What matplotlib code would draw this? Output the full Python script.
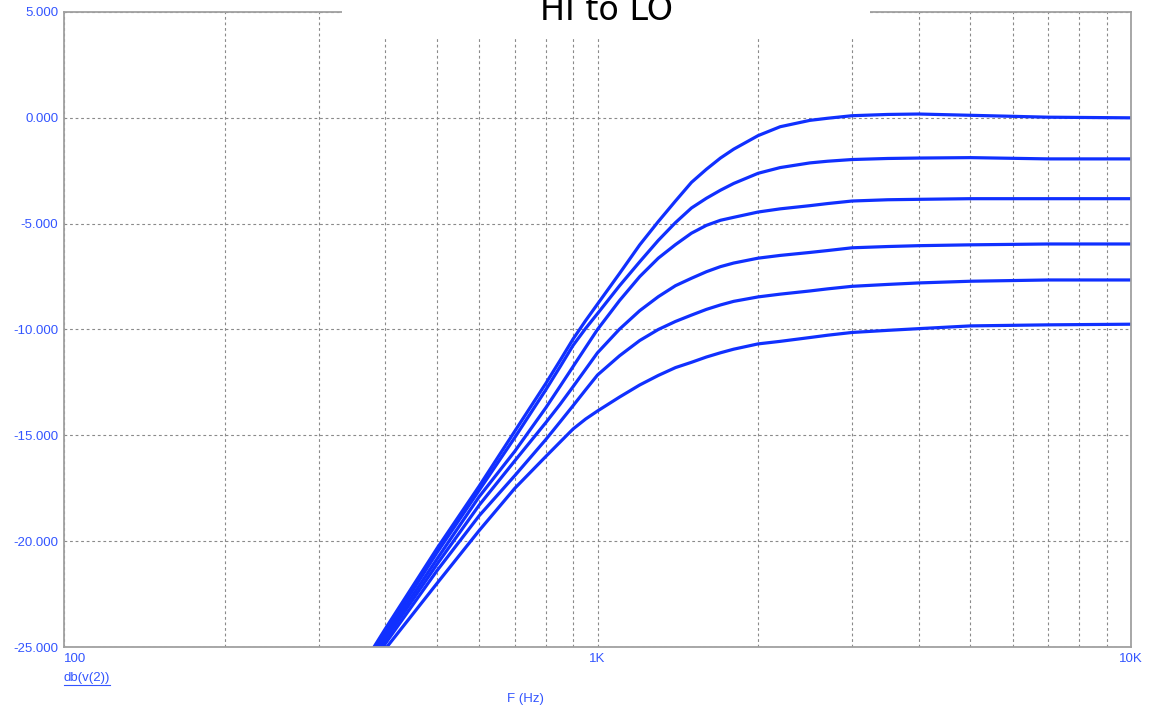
import numpy as np
import matplotlib
matplotlib.use("Agg")
import matplotlib.pyplot as plt
from matplotlib.patches import Rectangle
from matplotlib.ticker import FixedLocator, NullFormatter

# frequency points (Hz)
freq = [380, 400, 500, 600, 700, 800, 850, 900, 950, 1000, 1100, 1200, 1300, 1400,
        1500, 1600, 1700, 1800, 2000, 2200, 2500, 2700, 3000, 3500, 4000, 5000,
        7000, 10000]

# db(v(2)) for each sweep step, HI to LO
c1 = [-25.05, -24.15, -20.35, -17.4, -14.8, -12.55, -11.48, -10.45, -9.58, -8.8,
      -7.35, -6.0, -4.9, -3.93, -3.05, -2.43, -1.9, -1.48, -0.84, -0.42, -0.12,
      -0.02, 0.1, 0.16, 0.18, 0.12, 0.03, 0.0]
c2 = [-25.2, -24.35, -20.55, -17.6, -15.1, -12.85, -11.78, -10.75, -9.95, -9.25,
      -7.93, -6.8, -5.79, -4.95, -4.26, -3.8, -3.42, -3.1, -2.62, -2.35, -2.13,
      -2.05, -1.97, -1.92, -1.9, -1.88, -1.94, -1.94]
c3 = [-25.4, -24.5, -20.85, -17.9, -15.75, -13.7, -12.7, -11.75, -10.85, -10.0,
      -8.63, -7.5, -6.63, -5.99, -5.45, -5.08, -4.84, -4.7, -4.45, -4.3, -4.15,
      -4.05, -3.93, -3.87, -3.85, -3.82, -3.82, -3.82]
c4 = [-25.5, -24.67, -21.1, -18.3, -16.2, -14.4, -13.55, -12.7, -11.88, -11.1,
      -9.98, -9.11, -8.45, -7.93, -7.58, -7.27, -7.03, -6.86, -6.63, -6.5, -6.36,
      -6.27, -6.14, -6.08, -6.04, -6.0, -5.96, -5.96]
c5 = [-25.7, -24.85, -21.4, -18.8, -16.9, -15.2, -14.38, -13.6, -12.85, -12.15,
      -11.24, -10.52, -10.0, -9.62, -9.32, -9.05, -8.84, -8.67, -8.46, -8.33, -8.18,
      -8.08, -7.96, -7.87, -7.8, -7.72, -7.66, -7.66]
c6 = [-25.9, -25.1, -22.0, -19.5, -17.5, -16.0, -15.33, -14.7, -14.23, -13.85,
      -13.19, -12.62, -12.17, -11.8, -11.55, -11.3, -11.1, -10.93, -10.68, -10.56,
      -10.38, -10.27, -10.14, -10.04, -9.96, -9.83, -9.78, -9.75]
curves = [c1, c2, c3, c4, c5, c6]

yticks = [5, 0, -5, -10, -15, -20, -25]
xticks = [100, 1000, 10000]
xticklabels = ["100", "1K", "10K"]

blue = "#1030ff"
label_blue = "#3355ff"
grid_gray = "#8a8a8a"

fig = plt.figure(figsize=(11.53, 7.15), dpi=100)
ax = fig.add_axes([64 / 1153, 1 - 647 / 715, (1131 - 64) / 1153, (647 - 12) / 715])

for c in curves:
    ax.plot(freq, c, color=blue, lw=2.3, solid_joinstyle="round")

ax.set_xscale("log")
ax.set_xlim(100, 10000)
ax.set_ylim(-25, 5)

ax.set_yticks(yticks)
ax.set_yticklabels(["%.3f" % v for v in yticks])
ax.set_xticks(xticks)
ax.set_xticklabels(xticklabels)
minors = [m * d for d in (100, 1000) for m in range(2, 10)]
ax.xaxis.set_minor_locator(FixedLocator(minors))
ax.xaxis.set_minor_formatter(NullFormatter())

ax.tick_params(axis="both", which="both", length=0, colors=label_blue,
               labelsize=9.5, pad=4)
for lab in ax.get_xticklabels() + ax.get_yticklabels():
    lab.set_fontfamily("Liberation Sans")
ax.get_xticklabels()[0].set_horizontalalignment("left")

ax.grid(True, which="both", axis="x", color=grid_gray, lw=0.8, ls=(0, (2.5, 2.5)))
ax.grid(True, which="major", axis="y", color=grid_gray, lw=0.8, ls=(0, (2.5, 2.5)))

for s in ax.spines.values():
    s.set_color("#a0a0a0")
    s.set_linewidth(1.3)

# white box behind the title that hides the top border and grid
fig.patches.append(Rectangle((342 / 1153, 1 - 37 / 715), 528 / 1153, 37 / 715,
                             transform=fig.transFigure, facecolor="white",
                             edgecolor="none", zorder=5))
fig.text(606 / 1153, 1 - 20 / 715, "HI to LO", fontsize=24, color="black",
         ha="center", va="baseline", family="DejaVu Sans", zorder=6)

t = fig.text(64 / 1153, 1 - 681 / 715, "db(v(2))", fontsize=9.5, color=label_blue,
             ha="left", va="baseline", family="Liberation Sans")
fig.canvas.draw()
bb = t.get_window_extent()
fig.add_artist(plt.Line2D([bb.x0 / 1153, bb.x1 / 1153],
                          [(bb.y0 - 1) / 715, (bb.y0 - 1) / 715],
                          color=label_blue, lw=0.8, transform=fig.transFigure))

fig.text(525 / 1153, 1 - 702 / 715, "F (Hz)", fontsize=9.5, color=label_blue,
         ha="center", va="baseline", family="Liberation Sans")

fig.savefig("out.png", dpi=100)
